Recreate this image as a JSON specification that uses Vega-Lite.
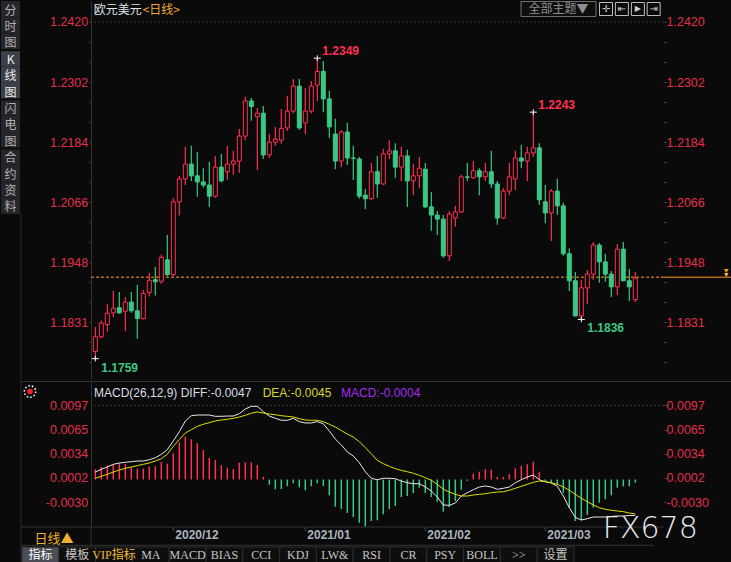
{
"$schema":"https://vega.github.io/schema/vega-lite/v6.json",
"background":"#0a0a0a",
"padding":0,
"spacing":2,
"bounds":"flush",
"config":{"view":{"stroke":null},"scale":{"continuousPadding":0},"font":"Liberation Sans"},
"datasets":{"k":[
{"d":"2020-11-12","o":1.1773,"h":1.1821,"l":1.1759,"c":1.1802,"dif":0.00098,"dea":0.00016,"m":0.00134},
{"d":"2020-11-13","o":1.1802,"h":1.1834,"l":1.1799,"c":1.1829,"dif":0.00134,"dea":0.00042,"m":0.00164},
{"d":"2020-11-16","o":1.1826,"h":1.1866,"l":1.1812,"c":1.1848,"dif":0.00164,"dea":0.00068,"m":0.00186},
{"d":"2020-11-17","o":1.1849,"h":1.1892,"l":1.1841,"c":1.1858,"dif":0.00199,"dea":0.00098,"m":0.00199},
{"d":"2020-11-18","o":1.1859,"h":1.1890,"l":1.1847,"c":1.1849,"dif":0.00216,"dea":0.00124,"m":0.00212},
{"d":"2020-11-19","o":1.1852,"h":1.1880,"l":1.1813,"c":1.1870,"dif":0.00225,"dea":0.00147,"m":0.00203},
{"d":"2020-11-20","o":1.1870,"h":1.1890,"l":1.1849,"c":1.1853,"dif":0.00233,"dea":0.00164,"m":0.00164},
{"d":"2020-11-23","o":1.1853,"h":1.1904,"l":1.1798,"c":1.1838,"dif":0.00242,"dea":0.00181,"m":0.00141},
{"d":"2020-11-24","o":1.1838,"h":1.1894,"l":1.1836,"c":1.1887,"dif":0.00242,"dea":0.00199,"m":0.00141},
{"d":"2020-11-25","o":1.1889,"h":1.1927,"l":1.1881,"c":1.1913,"dif":0.00259,"dea":0.00216,"m":0.00168},
{"d":"2020-11-26","o":1.1914,"h":1.1939,"l":1.1883,"c":1.1910,"dif":0.00285,"dea":0.00242,"m":0.00173},
{"d":"2020-11-27","o":1.1911,"h":1.1963,"l":1.1906,"c":1.1958,"dif":0.00330,"dea":0.00272,"m":0.00229},
{"d":"2020-11-30","o":1.1953,"h":1.2002,"l":1.1921,"c":1.1924,"dif":0.00390,"dea":0.00330,"m":0.00207},
{"d":"2020-12-01","o":1.1924,"h":1.2074,"l":1.1921,"c":1.2067,"dif":0.00504,"dea":0.00435,"m":0.00343},
{"d":"2020-12-02","o":1.2067,"h":1.2118,"l":1.2040,"c":1.2112,"dif":0.00626,"dea":0.00521,"m":0.00482},
{"d":"2020-12-03","o":1.2112,"h":1.2175,"l":1.2100,"c":1.2141,"dif":0.00766,"dea":0.00609,"m":0.00560},
{"d":"2020-12-04","o":1.2141,"h":1.2177,"l":1.2108,"c":1.2118,"dif":0.00835,"dea":0.00652,"m":0.00526},
{"d":"2020-12-07","o":1.2118,"h":1.2165,"l":1.2077,"c":1.2106,"dif":0.00844,"dea":0.00696,"m":0.00474},
{"d":"2020-12-08","o":1.2106,"h":1.2133,"l":1.2095,"c":1.2100,"dif":0.00844,"dea":0.00723,"m":0.00386},
{"d":"2020-12-09","o":1.2100,"h":1.2145,"l":1.2057,"c":1.2078,"dif":0.00844,"dea":0.00744,"m":0.00281},
{"d":"2020-12-10","o":1.2078,"h":1.2157,"l":1.2075,"c":1.2135,"dif":0.00827,"dea":0.00766,"m":0.00255},
{"d":"2020-12-11","o":1.2135,"h":1.2161,"l":1.2105,"c":1.2108,"dif":0.00827,"dea":0.00779,"m":0.00186},
{"d":"2020-12-14","o":1.2126,"h":1.2177,"l":1.2110,"c":1.2141,"dif":0.00831,"dea":0.00788,"m":0.00154},
{"d":"2020-12-15","o":1.2141,"h":1.2167,"l":1.2120,"c":1.2147,"dif":0.00831,"dea":0.00801,"m":0.00137},
{"d":"2020-12-16","o":1.2147,"h":1.2210,"l":1.2124,"c":1.2196,"dif":0.00861,"dea":0.00818,"m":0.00220},
{"d":"2020-12-17","o":1.2196,"h":1.2273,"l":1.2188,"c":1.2265,"dif":0.00923,"dea":0.00840,"m":0.00225},
{"d":"2020-12-18","o":1.2265,"h":1.2271,"l":1.2226,"c":1.2254,"dif":0.00958,"dea":0.00867,"m":0.00225},
{"d":"2020-12-21","o":1.2234,"h":1.2251,"l":1.2129,"c":1.2241,"dif":0.00958,"dea":0.00884,"m":0.00190},
{"d":"2020-12-22","o":1.2241,"h":1.2255,"l":1.2151,"c":1.2159,"dif":0.00888,"dea":0.00870,"m":0.00037},
{"d":"2020-12-23","o":1.2159,"h":1.2200,"l":1.2153,"c":1.2184,"dif":0.00831,"dea":0.00857,"m":-0.00068},
{"d":"2020-12-24","o":1.2184,"h":1.2214,"l":1.2177,"c":1.2190,"dif":0.00801,"dea":0.00848,"m":-0.00128},
{"d":"2020-12-28","o":1.2188,"h":1.2249,"l":1.2181,"c":1.2211,"dif":0.00775,"dea":0.00835,"m":-0.00124},
{"d":"2020-12-29","o":1.2212,"h":1.2275,"l":1.2206,"c":1.2245,"dif":0.00775,"dea":0.00827,"m":-0.00089},
{"d":"2020-12-30","o":1.2245,"h":1.2308,"l":1.2241,"c":1.2294,"dif":0.00801,"dea":0.00818,"m":-0.00050},
{"d":"2020-12-31","o":1.2294,"h":1.2308,"l":1.2208,"c":1.2212,"dif":0.00757,"dea":0.00796,"m":-0.00102},
{"d":"2021-01-04","o":1.2222,"h":1.2290,"l":1.2200,"c":1.2245,"dif":0.00740,"dea":0.00779,"m":-0.00141},
{"d":"2021-01-05","o":1.2245,"h":1.2304,"l":1.2241,"c":1.2294,"dif":0.00740,"dea":0.00775,"m":-0.00089},
{"d":"2021-01-06","o":1.2296,"h":1.2349,"l":1.2265,"c":1.2323,"dif":0.00757,"dea":0.00775,"m":-0.00050},
{"d":"2021-01-07","o":1.2323,"h":1.2343,"l":1.2243,"c":1.2269,"dif":0.00730,"dea":0.00757,"m":-0.00085},
{"d":"2021-01-08","o":1.2269,"h":1.2285,"l":1.2192,"c":1.2214,"dif":0.00635,"dea":0.00723,"m":-0.00207},
{"d":"2021-01-11","o":1.2200,"h":1.2230,"l":1.2131,"c":1.2147,"dif":0.00530,"dea":0.00687,"m":-0.00356},
{"d":"2021-01-12","o":1.2147,"h":1.2208,"l":1.2135,"c":1.2204,"dif":0.00452,"dea":0.00641,"m":-0.00385},
{"d":"2021-01-13","o":1.2204,"h":1.2222,"l":1.2139,"c":1.2153,"dif":0.00360,"dea":0.00596,"m":-0.00437},
{"d":"2021-01-14","o":1.2153,"h":1.2177,"l":1.2110,"c":1.2152,"dif":0.00308,"dea":0.00556,"m":-0.00491},
{"d":"2021-01-15","o":1.2151,"h":1.2155,"l":1.2073,"c":1.2078,"dif":0.00220,"dea":0.00495,"m":-0.00565},
{"d":"2021-01-18","o":1.2080,"h":1.2092,"l":1.2053,"c":1.2073,"dif":0.00102,"dea":0.00416,"m":-0.00618},
{"d":"2021-01-19","o":1.2073,"h":1.2143,"l":1.2071,"c":1.2126,"dif":0.00016,"dea":0.00338,"m":-0.00543},
{"d":"2021-01-20","o":1.2126,"h":1.2157,"l":1.2075,"c":1.2102,"dif":-0.00003,"dea":0.00251,"m":-0.00534},
{"d":"2021-01-21","o":1.2102,"h":1.2171,"l":1.2100,"c":1.2161,"dif":0.00016,"dea":0.00207,"m":-0.00456},
{"d":"2021-01-22","o":1.2161,"h":1.2188,"l":1.2151,"c":1.2167,"dif":0.00016,"dea":0.00173,"m":-0.00386},
{"d":"2021-01-25","o":1.2167,"h":1.2182,"l":1.2114,"c":1.2135,"dif":0.00010,"dea":0.00141,"m":-0.00347},
{"d":"2021-01-26","o":1.2135,"h":1.2175,"l":1.2108,"c":1.2157,"dif":-0.00020,"dea":0.00120,"m":-0.00229},
{"d":"2021-01-27","o":1.2157,"h":1.2169,"l":1.2057,"c":1.2108,"dif":-0.00042,"dea":0.00102,"m":-0.00216},
{"d":"2021-01-28","o":1.2108,"h":1.2141,"l":1.2080,"c":1.2118,"dif":-0.00055,"dea":0.00081,"m":-0.00177},
{"d":"2021-01-29","o":1.2118,"h":1.2155,"l":1.2094,"c":1.2133,"dif":-0.00055,"dea":0.00055,"m":-0.00107},
{"d":"2021-02-01","o":1.2131,"h":1.2143,"l":1.2055,"c":1.2057,"dif":-0.00098,"dea":0.00024,"m":-0.00177},
{"d":"2021-02-02","o":1.2057,"h":1.2086,"l":1.2010,"c":1.2041,"dif":-0.00151,"dea":-0.00010,"m":-0.00229},
{"d":"2021-02-03","o":1.2041,"h":1.2049,"l":1.2002,"c":1.2033,"dif":-0.00229,"dea":-0.00063,"m":-0.00291},
{"d":"2021-02-04","o":1.2033,"h":1.2041,"l":1.1957,"c":1.1961,"dif":-0.00334,"dea":-0.00128,"m":-0.00421},
{"d":"2021-02-05","o":1.1961,"h":1.2049,"l":1.1951,"c":1.2043,"dif":-0.00338,"dea":-0.00164,"m":-0.00360},
{"d":"2021-02-08","o":1.2035,"h":1.2059,"l":1.2018,"c":1.2047,"dif":-0.00308,"dea":-0.00194,"m":-0.00281},
{"d":"2021-02-09","o":1.2047,"h":1.2120,"l":1.2045,"c":1.2116,"dif":-0.00216,"dea":-0.00216,"m":-0.00134},
{"d":"2021-02-10","o":1.2116,"h":1.2143,"l":1.2108,"c":1.2115,"dif":-0.00173,"dea":-0.00216,"m":-0.00016},
{"d":"2021-02-11","o":1.2114,"h":1.2147,"l":1.2112,"c":1.2128,"dif":-0.00134,"dea":-0.00203,"m":0.00076},
{"d":"2021-02-12","o":1.2128,"h":1.2133,"l":1.2080,"c":1.2116,"dif":-0.00098,"dea":-0.00194,"m":0.00102},
{"d":"2021-02-15","o":1.2116,"h":1.2143,"l":1.2108,"c":1.2126,"dif":-0.00085,"dea":-0.00186,"m":0.00134},
{"d":"2021-02-16","o":1.2126,"h":1.2167,"l":1.2094,"c":1.2102,"dif":-0.00098,"dea":-0.00173,"m":0.00128},
{"d":"2021-02-17","o":1.2102,"h":1.2108,"l":1.2022,"c":1.2035,"dif":-0.00128,"dea":-0.00164,"m":0.00033},
{"d":"2021-02-18","o":1.2035,"h":1.2094,"l":1.2033,"c":1.2088,"dif":-0.00115,"dea":-0.00160,"m":0.00033},
{"d":"2021-02-19","o":1.2088,"h":1.2143,"l":1.2080,"c":1.2116,"dif":-0.00098,"dea":-0.00141,"m":0.00072},
{"d":"2021-02-22","o":1.2112,"h":1.2167,"l":1.2090,"c":1.2153,"dif":-0.00042,"dea":-0.00115,"m":0.00147},
{"d":"2021-02-23","o":1.2153,"h":1.2179,"l":1.2133,"c":1.2147,"dif":-0.00003,"dea":-0.00089,"m":0.00177},
{"d":"2021-02-24","o":1.2147,"h":1.2175,"l":1.2108,"c":1.2163,"dif":0.00033,"dea":-0.00063,"m":0.00199},
{"d":"2021-02-25","o":1.2163,"h":1.2243,"l":1.2155,"c":1.2173,"dif":0.00059,"dea":-0.00037,"m":0.00233},
{"d":"2021-02-26","o":1.2173,"h":1.2182,"l":1.2061,"c":1.2071,"dif":-0.00003,"dea":-0.00020,"m":0.00102},
{"d":"2021-03-01","o":1.2067,"h":1.2100,"l":1.2025,"c":1.2045,"dif":-0.00029,"dea":-0.00029,"m":-0.00020},
{"d":"2021-03-02","o":1.2045,"h":1.2092,"l":1.1990,"c":1.2088,"dif":-0.00046,"dea":-0.00042,"m":-0.00042},
{"d":"2021-03-03","o":1.2088,"h":1.2112,"l":1.2041,"c":1.2059,"dif":-0.00089,"dea":-0.00063,"m":-0.00063},
{"d":"2021-03-04","o":1.2059,"h":1.2065,"l":1.1961,"c":1.1965,"dif":-0.00216,"dea":-0.00098,"m":-0.00173},
{"d":"2021-03-05","o":1.1965,"h":1.1976,"l":1.1892,"c":1.1912,"dif":-0.00369,"dea":-0.00141,"m":-0.00369},
{"d":"2021-03-08","o":1.1912,"h":1.1929,"l":1.1842,"c":1.1843,"dif":-0.00497,"dea":-0.00194,"m":-0.00543},
{"d":"2021-03-09","o":1.1843,"h":1.1914,"l":1.1836,"c":1.1898,"dif":-0.00530,"dea":-0.00246,"m":-0.00534},
{"d":"2021-03-10","o":1.1898,"h":1.1933,"l":1.1866,"c":1.1925,"dif":-0.00513,"dea":-0.00291,"m":-0.00465},
{"d":"2021-03-11","o":1.1925,"h":1.1988,"l":1.1914,"c":1.1982,"dif":-0.00491,"dea":-0.00334,"m":-0.00369},
{"d":"2021-03-12","o":1.1982,"h":1.1986,"l":1.1908,"c":1.1949,"dif":-0.00491,"dea":-0.00369,"m":-0.00304},
{"d":"2021-03-15","o":1.1949,"h":1.1965,"l":1.1910,"c":1.1925,"dif":-0.00491,"dea":-0.00390,"m":-0.00259},
{"d":"2021-03-16","o":1.1925,"h":1.1931,"l":1.1880,"c":1.1900,"dif":-0.00484,"dea":-0.00403,"m":-0.00207},
{"d":"2021-03-17","o":1.1900,"h":1.1984,"l":1.1884,"c":1.1974,"dif":-0.00478,"dea":-0.00412,"m":-0.00107},
{"d":"2021-03-18","o":1.1974,"h":1.1988,"l":1.1911,"c":1.1912,"dif":-0.00478,"dea":-0.00421,"m":-0.00089},
{"d":"2021-03-19","o":1.1912,"h":1.1935,"l":1.1872,"c":1.1900,"dif":-0.00471,"dea":-0.00439,"m":-0.00089},
{"d":"2021-03-22","o":1.1875,"h":1.1929,"l":1.1870,"c":1.1917,"dif":-0.00470,"dea":-0.00450,"m":-0.00040}
]},
"hconcat":[
{"width":19,"height":213,
 "data":{"values":[{"s":"分时图","ch":"分"},{"s":"分时图","ch":"时"},{"s":"分时图","ch":"图"},{"s":"K线图","ch":"K"},{"s":"K线图","ch":"线"},{"s":"K线图","ch":"图"},{"s":"闪电图","ch":"闪"},{"s":"闪电图","ch":"电"},{"s":"闪电图","ch":"图"},{"s":"合约资料","ch":"合"},{"s":"合约资料","ch":"约"},{"s":"合约资料","ch":"资"},{"s":"合约资料","ch":"料"}]},
 "transform":[{"window":[{"op":"row_number","as":"r"}]}],
 "encoding":{"y":{"field":"r","type":"ordinal","axis":null,"scale":{"paddingInner":0,"paddingOuter":0}}},
 "layer":[
  {"mark":{"type":"rect"},"encoding":{"fill":{"condition":{"test":"datum.s=='K线图'","value":"#3c3f47"},"value":"#25262a"}}},
  {"transform":[{"filter":"datum.r == 3 || datum.r == 6 || datum.r == 9"}],"mark":{"type":"rule","stroke":"#0a0a0a","strokeWidth":2},"encoding":{"y":{"field":"r","type":"ordinal","bandPosition":1}}},
  {"mark":{"type":"text","font":"Noto Sans CJK SC","fontSize":12,"baseline":"middle","dy":1.5},"encoding":{"text":{"field":"ch"},"color":{"condition":{"test":"datum.s=='K线图'","value":"#ececec"},"value":"#b0b0b0"}}}
 ]},
{"hconcat":[
 {"vconcat":[
  {"width":69,"height":546,"data":{"values":[]},"mark":{"type":"rule"},"encoding":{}},
  {"width":552,"height":16,
   "data":{"values":[{"b":"指标"},{"b":"模板"},{"b":"VIP指标"},{"b":"MA"},{"b":"MACD"},{"b":"BIAS"},{"b":"CCI"},{"b":"KDJ"},{"b":"LW&"},{"b":"RSI"},{"b":"CR"},{"b":"PSY"},{"b":"BOLL"},{"b":">>"},{"b":"设置"}]},
   "encoding":{"x":{"field":"b","type":"nominal","sort":null,"axis":null,"scale":{"paddingInner":0,"paddingOuter":0}}},
   "layer":[
    {"mark":{"type":"rect","stroke":"#2e2e2e","strokeWidth":1},"encoding":{"fill":{"condition":{"test":"datum.b=='指标'","value":"#4b4e57"},"value":"#0e0e0e"}}},
    {"mark":{"type":"text","font":"Liberation Serif, Noto Sans CJK SC","fontSize":12,"baseline":"middle"},"encoding":{"text":{"field":"b"},"color":{"condition":[{"test":"datum.b=='VIP指标'","value":"#f3b93c"},{"test":"datum.b=='指标'","value":"#ffffff"}],"value":"#c6c6c6"}}}
   ]}
 ],"spacing":0,"bounds":"flush"},
 {"vconcat":[
   {"width":573,"height":378,
    "resolve":{"axis":{"y":"independent"}},
    "layer":[
     {"data":{"values":[{}]},"mark":{"type":"rule","stroke":"#363636","strokeDash":[2,2]},"encoding":{"y":{"datum":1.242,"axis":null}}},
     {"data":{"values":[{}]},"mark":{"type":"rule","stroke":"#ff9a1f","strokeDash":[3,2]},"encoding":{"y":{"datum":1.1919,"axis":null}}},
     {"data":{"values":[{}]},"mark":{"type":"rule","stroke":"#ff9a1f"},"encoding":{"x":{"datum":95.7833,"axis":null},"x2":{"datum":106.95},"y":{"datum":1.1919,"axis":null}}},
     {"data":{"values":[{}]},"mark":{"type":"point","shape":"triangle-down","size":22,"filled":true,"fill":"#ff9a1f","opacity":1},"encoding":{"x":{"datum":106.17,"axis":null},"y":{"datum":1.19311,"axis":null}}},
     {"data":{"values":[{}]},"mark":{"type":"point","shape":"triangle-down","size":22,"filled":true,"fill":"#ffb040","opacity":1},"encoding":{"x":{"datum":106.17,"axis":null},"y":{"datum":1.19233,"axis":null}}},
     {"data":{"name":"k"},"transform":[{"window":[{"op":"row_number","as":"n"}]}],
      "mark":{"type":"rule","strokeWidth":1.2},
      "encoding":{
       "x":{"field":"n","type":"quantitative","scale":{"domain":[0.2833,95.7833],"nice":false,"zero":false,"padding":0},"axis":null},
       "y":{"field":"l","type":"quantitative","scale":{"domain":[1.17191,1.24612],"nice":false,"zero":false},
        "axis":{"orient":"left","values":[1.242,1.23807,1.23415,1.2302,1.22629,1.22237,1.2184,1.21451,1.21059,1.2066,1.20273,1.19881,1.1948,1.19095,1.18702,1.1831,1.17917,1.17525],"format":".4f","labelExpr":"indexof(['1.2420','1.2302','1.2184','1.2066','1.1948','1.1831'], datum.label) >= 0 ? datum.label : ''","labelColor":"#e2304b","labelFont":"Liberation Sans","labelFontSize":12.5,"tickColor":"#444444","tickSize":2,"domainColor":"#333333","grid":false,"labelPadding":1.3,"title":null,"labelOverlap":false,"labelFlush":false,"labelBound":false}},
       "y2":{"field":"h"},
       "color":{"condition":{"test":"datum.c >= datum.o","value":"#ff3050"},"value":"#3cc884"}
      }},
     {"data":{"name":"k"},"transform":[{"window":[{"op":"row_number","as":"n"}]}],
      "mark":{"type":"bar","size":4,"strokeWidth":1},
      "encoding":{
       "x":{"field":"n","type":"quantitative","scale":{"domain":[0.2833,95.7833],"nice":false,"zero":false,"padding":0},"axis":null},
       "y":{"field":"o","type":"quantitative","scale":{"domain":[1.17191,1.24612],"nice":false,"zero":false},
        "axis":{"orient":"right","values":[1.242,1.23807,1.23415,1.2302,1.22629,1.22237,1.2184,1.21451,1.21059,1.2066,1.20273,1.19881,1.1948,1.19095,1.18702,1.1831,1.17917,1.17525],"format":".4f","labelExpr":"indexof(['1.2420','1.2302','1.2184','1.2066','1.1948','1.1831'], datum.label) >= 0 ? datum.label : ''","labelColor":"#e2304b","labelFont":"Liberation Sans","labelFontSize":12.5,"tickColor":"#555555","tickSize":2,"domain":false,"grid":false,"labelPadding":0,"title":null,"labelOverlap":false,"labelFlush":false,"labelBound":false}},
       "y2":{"field":"c"},
       "fill":{"condition":{"test":"datum.c >= datum.o","value":"#0a0a0a"},"value":"#3cc884"},
       "stroke":{"condition":{"test":"datum.c >= datum.o","value":"#ff3050"},"value":"#3cc884"}
      }},
     {"data":{"name":"k"},"transform":[{"window":[{"op":"row_number","as":"n"}]},{"filter":"datum.n == 38 || datum.n == 74"}],
      "mark":{"type":"text","align":"left","baseline":"middle","dx":5,"dy":-7,"fontWeight":"bold","fontSize":12,"font":"Liberation Sans","color":"#ff3050"},
      "encoding":{"x":{"field":"n","type":"quantitative","axis":null},"y":{"field":"h","type":"quantitative","axis":null},"text":{"field":"h","type":"quantitative","format":".4f"}}},
     {"data":{"name":"k"},"transform":[{"window":[{"op":"row_number","as":"n"}]},{"filter":"datum.n == 1 || datum.n == 82"}],
      "mark":{"type":"text","align":"left","baseline":"middle","dx":6,"dy":9,"fontWeight":"bold","fontSize":12,"font":"Liberation Sans","color":"#3cc884"},
      "encoding":{"x":{"field":"n","type":"quantitative","axis":null},"y":{"field":"l","type":"quantitative","axis":null},"text":{"field":"l","type":"quantitative","format":".4f"}}},
     {"data":{"name":"k"},"transform":[{"window":[{"op":"row_number","as":"n"}]},{"filter":"datum.n == 38 || datum.n == 74"}],
      "mark":{"type":"point","shape":"M-1,0H1M0,-0.8V0.8","size":49,"filled":false,"stroke":"#ffffff","strokeWidth":1,"opacity":1},
      "encoding":{"x":{"field":"n","type":"quantitative","axis":null},"y":{"field":"h","type":"quantitative","axis":null}}},
     {"data":{"name":"k"},"transform":[{"window":[{"op":"row_number","as":"n"}]},{"filter":"datum.n == 1 || datum.n == 82"}],
      "mark":{"type":"point","shape":"M-1,0H1M0,-0.8V0.8","size":49,"filled":false,"stroke":"#ffffff","strokeWidth":1,"opacity":1},
      "encoding":{"x":{"field":"n","type":"quantitative","axis":null},"y":{"field":"l","type":"quantitative","axis":null}}},
     {"data":{"values":[{}]},"mark":{"type":"text","text":"欧元美元","align":"left","baseline":"middle","font":"Noto Sans CJK SC","fontSize":12,"color":"#dfe6ee"},"encoding":{"x":{"datum":0.733,"axis":null},"y":{"datum":1.24426,"axis":null}}},
     {"data":{"values":[{}]},"mark":{"type":"text","text":"<日线>","align":"left","baseline":"middle","font":"Noto Sans CJK SC","fontSize":12,"color":"#eeaa33"},"encoding":{"x":{"datum":8.9,"axis":null},"y":{"datum":1.24426,"axis":null}}},
     {"data":{"values":[{}]},"mark":{"type":"rect","fill":"#0e0e0e","stroke":"#707070","strokeWidth":1},"encoding":{"x":{"datum":71.95,"axis":null},"x2":{"datum":84.45},"y":{"datum":1.24602,"axis":null},"y2":{"datum":1.24308}}},
     {"data":{"values":[{}]},"mark":{"type":"text","text":"全部主题▼","align":"center","baseline":"middle","font":"Noto Sans CJK SC","fontSize":12,"color":"#8e8e8e"},"encoding":{"x":{"datum":78.2,"axis":null},"y":{"datum":1.24455,"axis":null}}},
     {"data":{"values":[{}]},"encoding":{"x":{"datum":86.12,"axis":null},"y":{"datum":1.24455,"axis":null}},
      "layer":[{"mark":{"type":"point","shape":"square","size":169,"filled":false,"stroke":"#bdbdbd","strokeWidth":1,"opacity":1}},{"mark":{"type":"text","text":"✛","fontSize":10,"color":"#cfcfcf","font":"DejaVu Sans","baseline":"middle"}}]},
     {"data":{"values":[{}]},"encoding":{"x":{"datum":88.76,"axis":null},"y":{"datum":1.24455,"axis":null}},
      "layer":[{"mark":{"type":"point","shape":"square","size":169,"filled":false,"stroke":"#bdbdbd","strokeWidth":1,"opacity":1}},{"mark":{"type":"text","text":"⇤","fontSize":10,"color":"#cfcfcf","font":"DejaVu Sans","baseline":"middle"}}]},
     {"data":{"values":[{}]},"encoding":{"x":{"datum":91.43,"axis":null},"y":{"datum":1.24455,"axis":null}},
      "layer":[{"mark":{"type":"point","shape":"square","size":169,"filled":false,"stroke":"#bdbdbd","strokeWidth":1,"opacity":1}},{"mark":{"type":"text","text":"▶","fontSize":8,"color":"#cfcfcf","font":"DejaVu Sans","baseline":"middle"}}]},
     {"data":{"values":[{}]},"encoding":{"x":{"datum":94.06,"axis":null},"y":{"datum":1.24455,"axis":null}},
      "layer":[{"mark":{"type":"point","shape":"square","size":169,"filled":false,"stroke":"#bdbdbd","strokeWidth":1,"opacity":1}},{"mark":{"type":"text","text":"⇥","fontSize":10,"color":"#cfcfcf","font":"DejaVu Sans","baseline":"middle"}}]},
     {"data":{"values":[{}]},"mark":{"type":"rule","stroke":"#2c2c2c"},"encoding":{"x":{"datum":-11.38,"axis":null},"y":{"datum":1.2043,"axis":null},"y2":{"datum":1.17152}}}
    ]},
   {"width":573,"height":145,
    "resolve":{"axis":{"y":"independent"}},
    "layer":[
     {"data":{"values":[{}]},"mark":{"type":"rule","stroke":"#363636","strokeDash":[2,2]},"encoding":{"y":{"datum":0.0097,"axis":null}}},
     {"data":{"name":"k"},"transform":[{"window":[{"op":"row_number","as":"n"}]}],
      "mark":{"type":"rule","strokeWidth":1.5},
      "encoding":{
       "x":{"field":"n","type":"quantitative","scale":{"domain":[0.2833,95.7833],"nice":false,"zero":false,"padding":0},"axis":null},
       "y":{"field":"m","type":"quantitative","scale":{"domain":[-0.006218,0.012763],"nice":false,"zero":false},
        "axis":{"orient":"left","values":[0.0097,0.0065,0.0034,0.0002,-0.003],"format":".4f","labelExpr":"replace(datum.label,'−','-')","labelColor":"#e2304b","labelFont":"Liberation Sans","labelFontSize":12.5,"tickSize":2,"tickOpacity":0,"domainColor":"#333333","grid":false,"labelPadding":1.3,"title":null,"labelOverlap":false,"labelFlush":false,"labelBound":false}},
       "y2":{"datum":0},
       "color":{"condition":{"test":"datum.m >= 0","value":"#ff3050"},"value":"#3cc884"}
      }},
     {"data":{"name":"k"},"transform":[{"window":[{"op":"row_number","as":"n"}]}],
      "mark":{"type":"line","strokeWidth":1,"color":"#e8e8e8"},
      "encoding":{
       "x":{"field":"n","type":"quantitative","axis":null},
       "y":{"field":"dif","type":"quantitative",
        "axis":{"orient":"right","values":[0.0097,0.0065,0.0034,0.0002,-0.003],"format":".4f","labelExpr":"replace(datum.label,'−','-')","labelColor":"#e2304b","labelFont":"Liberation Sans","labelFontSize":12.5,"tickColor":"#555555","tickSize":2,"domain":false,"grid":false,"labelPadding":0,"title":null,"labelOverlap":false,"labelFlush":false,"labelBound":false}}
      }},
     {"data":{"name":"k"},"transform":[{"window":[{"op":"row_number","as":"n"}]}],
      "mark":{"type":"line","strokeWidth":1,"color":"#e0e000"},
      "encoding":{"x":{"field":"n","type":"quantitative","axis":null},"y":{"field":"dea","type":"quantitative","axis":null}}},
     {"data":{"name":"k"},"transform":[{"window":[{"op":"row_number","as":"n"}]},{"filter":"datum.n == 14 || datum.n == 36 || datum.n == 56 || datum.n == 76"}],
      "mark":{"type":"rule","stroke":"#4a4a4a"},
      "encoding":{"x":{"field":"n","type":"quantitative","axis":null},"y":{"datum":-0.006218,"axis":null},"y2":{"datum":-0.006741}}},
     {"data":{"name":"k"},"transform":[{"window":[{"op":"row_number","as":"n"}]},{"filter":"datum.n == 14 || datum.n == 36 || datum.n == 56 || datum.n == 76"}],
      "mark":{"type":"text","align":"left","baseline":"middle","dx":2,"font":"Liberation Sans","fontSize":12,"fontWeight":"bold","color":"#aab4bf"},
      "encoding":{"x":{"field":"n","type":"quantitative","axis":null},"y":{"datum":-0.0073,"axis":null},"text":{"field":"d","type":"temporal","timeUnit":"utcyearmonth","format":"%Y/%m"}}},
     {"data":{"values":[{}]},"mark":{"type":"text","text":"MACD(26,12,9) DIFF:-0.0047","align":"left","baseline":"middle","font":"Liberation Sans","fontSize":12,"color":"#d8dde4"},"encoding":{"x":{"datum":0.783,"axis":null},"y":{"datum":0.011284,"axis":null}}},
     {"data":{"values":[{}]},"mark":{"type":"text","text":"DEA:-0.0045","align":"left","baseline":"middle","font":"Liberation Sans","fontSize":12,"color":"#d6d62a"},"encoding":{"x":{"datum":28.9,"axis":null},"y":{"datum":0.011284,"axis":null}}},
     {"data":{"values":[{}]},"mark":{"type":"text","text":"MACD:-0.0004","align":"left","baseline":"middle","font":"Liberation Sans","fontSize":12,"color":"#a52af0"},"encoding":{"x":{"datum":41.95,"axis":null},"y":{"datum":0.011284,"axis":null}}},
     {"data":{"values":[{}]},"encoding":{"x":{"datum":-9.88,"axis":null},"y":{"datum":0.011519,"axis":null}},
      "layer":[
       {"mark":{"type":"point","shape":"circle","size":130,"filled":false,"stroke":"#ffffff","strokeWidth":1.5,"strokeDash":[1.5,2],"opacity":1}},
       {"mark":{"type":"point","shape":"circle","size":30,"filled":true,"fill":"#ff1f2f","opacity":1}}
      ]},
     {"data":{"values":[{}]},"mark":{"type":"text","text":"日线▲","align":"left","baseline":"middle","font":"Noto Sans CJK SC","fontSize":13,"color":"#f0b030"},"encoding":{"x":{"datum":-9.12,"axis":null},"y":{"datum":-0.007749,"axis":null}}},
     {"data":{"values":[{}]},"mark":{"type":"rule","stroke":"#333333"},"encoding":{"x":{"datum":-11.38,"axis":null},"x2":{"datum":106.95},"y":{"datum":0.012828,"axis":null}}},
     {"data":{"values":[{}]},"mark":{"type":"rule","stroke":"#333333"},"encoding":{"x":{"datum":-11.38,"axis":null},"x2":{"datum":95.7833},"y":{"datum":-0.006218,"axis":null}}},
     {"data":{"values":[{}]},"mark":{"type":"rule","stroke":"#333333"},"encoding":{"x":{"datum":-11.38,"axis":null},"x2":{"datum":94.12},"y":{"datum":-0.008613,"axis":null}}},
     {"data":{"values":[{}]},"mark":{"type":"rule","stroke":"#2c2c2c"},"encoding":{"x":{"datum":-11.38,"axis":null},"y":{"datum":0.012828,"axis":null},"y2":{"datum":-0.01093}}},
     {"data":{"values":[{}]},"mark":{"type":"rule","stroke":"#333333"},"encoding":{"x":{"datum":0.2833,"axis":null},"y":{"datum":-0.006218,"axis":null},"y2":{"datum":-0.008613}}},
     {"data":{"values":[{}]},"mark":{"type":"text","text":"FX678","align":"left","baseline":"alphabetic","font":"DejaVu Sans","fontWeight":300,"fontSize":30,"color":"#e6ebf2"},"encoding":{"x":{"datum":85.57,"axis":null},"y":{"datum":-0.007723,"axis":null}}}
    ]}
 ],"spacing":3,"bounds":"flush"}
],"spacing":69,"bounds":"flush"}
]
}
